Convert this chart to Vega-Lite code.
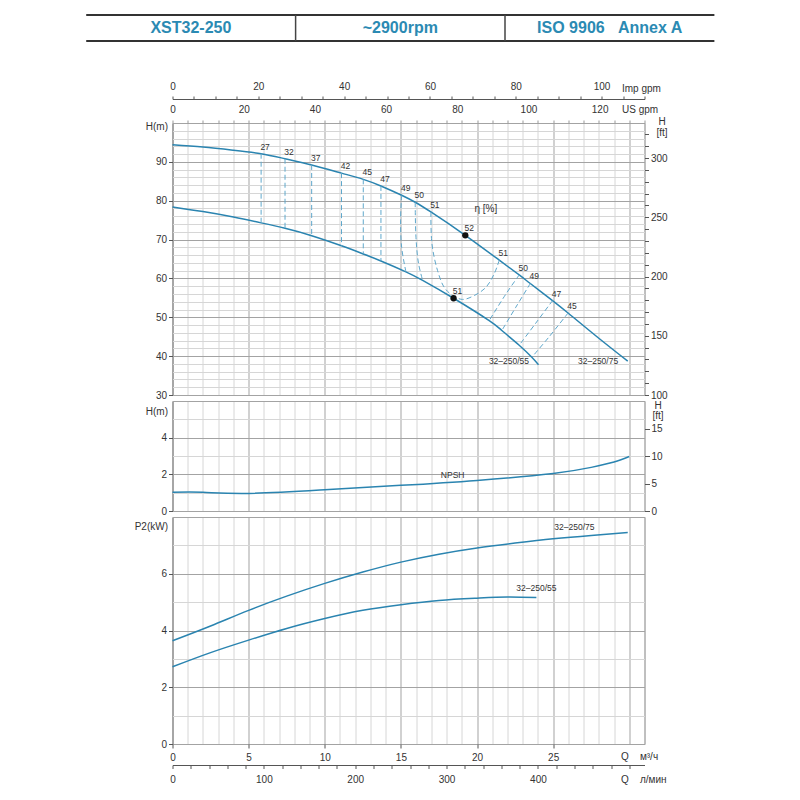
{
  "$schema": "https://vega.github.io/schema/vega-lite/v6.json",
  "background": "white",
  "padding": {"left": 84.5, "top": 14, "right": 5, "bottom": 5},
  "config": {
    "font": "Liberation Sans",
    "view": {"stroke": "#555", "strokeWidth": 1},
    "axis": {
      "labelFont": "Liberation Sans", "labelFontSize": 10, "labelColor": "#333",
      "titleFont": "Liberation Sans", "titleFontSize": 10, "titleFontWeight": "normal", "titleColor": "#333",
      "tickColor": "#555", "domainColor": "#555", "gridColor": "#d6d6d6",
      "labelFlush": false, "labelOverlap": false
    },
    "text": {"font": "Liberation Sans"}
  },
  "datasets": {
    "hdr": [
      {"t": "XST32-250", "x": 0.5, "y": 0.5},
      {"t": "~2900rpm", "x": 1.5, "y": 0.5},
      {"t": "ISO 9906\u00a0\u00a0\u00a0Annex A", "x": 2.5, "y": 0.5}
    ],
    "hdrH": [{"x": 0, "x2": 3, "y": 0}, {"x": 0, "x2": 3, "y": 1}],
    "hdrV": [{"x": 1, "y": 0, "y2": 1}, {"x": 2, "y": 0, "y2": 1}],
    "hq": [
      {"m": "75", "q": 0, "h": 94.4}, {"m": "75", "q": 2, "h": 93.8}, {"m": "75", "q": 4, "h": 93.0},
      {"m": "75", "q": 5.82, "h": 92.1}, {"m": "75", "q": 7.39, "h": 90.8}, {"m": "75", "q": 9.14, "h": 89.2},
      {"m": "75", "q": 11.1, "h": 87.1}, {"m": "75", "q": 12.53, "h": 85.5}, {"m": "75", "q": 13.69, "h": 83.8},
      {"m": "75", "q": 15.05, "h": 81.4}, {"m": "75", "q": 15.94, "h": 79.6}, {"m": "75", "q": 16.97, "h": 77.1},
      {"m": "75", "q": 19.23, "h": 71.1}, {"m": "75", "q": 21.46, "h": 64.7}, {"m": "75", "q": 22.77, "h": 60.9},
      {"m": "75", "q": 23.5, "h": 58.7}, {"m": "75", "q": 24.96, "h": 54.3}, {"m": "75", "q": 25.98, "h": 51.1},
      {"m": "75", "q": 28, "h": 44.6}, {"m": "75", "q": 29.9, "h": 38.7},
      {"m": "55", "q": 0, "h": 78.4}, {"m": "55", "q": 2, "h": 77.2}, {"m": "55", "q": 4, "h": 75.8},
      {"m": "55", "q": 5.82, "h": 74.3}, {"m": "55", "q": 7.39, "h": 72.9}, {"m": "55", "q": 9.14, "h": 71.0},
      {"m": "55", "q": 11.1, "h": 68.4}, {"m": "55", "q": 12.53, "h": 66.3}, {"m": "55", "q": 13.69, "h": 64.5},
      {"m": "55", "q": 15.33, "h": 61.7}, {"m": "55", "q": 16.43, "h": 59.5}, {"m": "55", "q": 18.46, "h": 54.9},
      {"m": "55", "q": 20.8, "h": 49.15}, {"m": "55", "q": 21.63, "h": 46.6}, {"m": "55", "q": 22.77, "h": 42.8},
      {"m": "55", "q": 23.6, "h": 39.7}, {"m": "55", "q": 24.04, "h": 37.8}
    ],
    "eta": [
      {"e": "27", "i": 0, "q": 5.82, "h": 92.1}, {"e": "27", "i": 1, "q": 5.82, "h": 74.3},
      {"e": "32", "i": 0, "q": 7.39, "h": 90.8}, {"e": "32", "i": 1, "q": 7.39, "h": 72.9},
      {"e": "37", "i": 0, "q": 9.14, "h": 89.2}, {"e": "37", "i": 1, "q": 9.14, "h": 71.0},
      {"e": "42", "i": 0, "q": 11.1, "h": 87.1}, {"e": "42", "i": 1, "q": 11.1, "h": 68.4},
      {"e": "45a", "i": 0, "q": 12.53, "h": 85.5}, {"e": "45a", "i": 1, "q": 12.53, "h": 66.3},
      {"e": "47a", "i": 0, "q": 13.69, "h": 83.8}, {"e": "47a", "i": 1, "q": 13.69, "h": 64.5},
      {"e": "49a", "i": 0, "q": 15.05, "h": 81.4}, {"e": "49a", "i": 1, "q": 14.98, "h": 75.0},
      {"e": "49a", "i": 2, "q": 15.05, "h": 68.0}, {"e": "49a", "i": 3, "q": 15.33, "h": 61.7},
      {"e": "50a", "i": 0, "q": 15.94, "h": 79.6}, {"e": "50a", "i": 1, "q": 15.99, "h": 70.6},
      {"e": "50a", "i": 2, "q": 16.16, "h": 63.8}, {"e": "50a", "i": 3, "q": 16.43, "h": 59.5},
      {"e": "51", "i": 0, "q": 16.97, "h": 77.1}, {"e": "51", "i": 1, "q": 17.04, "h": 68.9},
      {"e": "51", "i": 2, "q": 17.41, "h": 62.0}, {"e": "51", "i": 3, "q": 17.85, "h": 57.7},
      {"e": "51", "i": 4, "q": 18.4, "h": 55.6}, {"e": "51", "i": 5, "q": 19.05, "h": 54.6},
      {"e": "51", "i": 6, "q": 19.82, "h": 55.6}, {"e": "51", "i": 7, "q": 20.58, "h": 57.7},
      {"e": "51", "i": 8, "q": 21.13, "h": 61.2}, {"e": "51", "i": 9, "q": 21.46, "h": 64.7},
      {"e": "50b", "i": 0, "q": 22.77, "h": 60.9}, {"e": "50b", "i": 1, "q": 21.9, "h": 56.0}, {"e": "50b", "i": 2, "q": 20.8, "h": 49.15},
      {"e": "49b", "i": 0, "q": 23.5, "h": 58.7}, {"e": "49b", "i": 1, "q": 22.55, "h": 52.6}, {"e": "49b", "i": 2, "q": 21.63, "h": 46.6},
      {"e": "47b", "i": 0, "q": 24.96, "h": 54.3}, {"e": "47b", "i": 1, "q": 23.86, "h": 48.5}, {"e": "47b", "i": 2, "q": 22.77, "h": 42.8},
      {"e": "45b", "i": 0, "q": 25.98, "h": 51.1}, {"e": "45b", "i": 1, "q": 24.74, "h": 45.0}, {"e": "45b", "i": 2, "q": 23.6, "h": 39.7}
    ],
    "etaLab": [
      {"t": "27", "q": 5.82, "h": 92.1}, {"t": "32", "q": 7.39, "h": 90.8}, {"t": "37", "q": 9.14, "h": 89.2},
      {"t": "42", "q": 11.1, "h": 87.1}, {"t": "45", "q": 12.53, "h": 85.5}, {"t": "47", "q": 13.69, "h": 83.8},
      {"t": "49", "q": 15.05, "h": 81.4}, {"t": "50", "q": 15.94, "h": 79.6}, {"t": "51", "q": 16.97, "h": 77.1},
      {"t": "52", "q": 19.23, "h": 71.1}, {"t": "51", "q": 21.46, "h": 64.7}, {"t": "50", "q": 22.77, "h": 60.9},
      {"t": "49", "q": 23.5, "h": 58.7}, {"t": "47", "q": 24.96, "h": 54.3}, {"t": "45", "q": 25.98, "h": 51.1},
      {"t": "51", "q": 18.46, "h": 54.9}
    ],
    "bep": [{"q": 19.23, "h": 71.1}, {"q": 18.46, "h": 54.9}],
    "etaTitle": [{"t": "η [%]", "q": 20.58, "h": 77.8}],
    "hnote": [{"t": "32–250/55", "q": 22.1, "h": 38.8}, {"t": "32–250/75", "q": 27.95, "h": 38.7}],
    "npsh": [
      {"q": 0, "h": 1.02}, {"q": 2, "h": 1.02}, {"q": 5, "h": 0.96}, {"q": 10, "h": 1.16}, {"q": 15, "h": 1.40},
      {"q": 20, "h": 1.67}, {"q": 25, "h": 2.05}, {"q": 27.5, "h": 2.38}, {"q": 29, "h": 2.67}, {"q": 30, "h": 2.97}
    ],
    "npshNote": [{"t": "NPSH", "q": 18.4, "h": 1.95}],
    "p2": [
      {"m": "75", "q": 0, "p": 3.64}, {"m": "75", "q": 2.5, "p": 4.16}, {"m": "75", "q": 5, "p": 4.71},
      {"m": "75", "q": 7.5, "p": 5.21}, {"m": "75", "q": 10, "p": 5.66}, {"m": "75", "q": 12.5, "p": 6.06},
      {"m": "75", "q": 15, "p": 6.41}, {"m": "75", "q": 17.5, "p": 6.69}, {"m": "75", "q": 20, "p": 6.91},
      {"m": "75", "q": 22.5, "p": 7.08}, {"m": "75", "q": 25, "p": 7.23}, {"m": "75", "q": 27.5, "p": 7.35},
      {"m": "75", "q": 29.9, "p": 7.45},
      {"m": "55", "q": 0, "p": 2.72}, {"m": "55", "q": 2.5, "p": 3.22}, {"m": "55", "q": 5, "p": 3.66},
      {"m": "55", "q": 7.5, "p": 4.07}, {"m": "55", "q": 10, "p": 4.42}, {"m": "55", "q": 12.5, "p": 4.71},
      {"m": "55", "q": 15, "p": 4.91}, {"m": "55", "q": 17.5, "p": 5.06}, {"m": "55", "q": 20, "p": 5.14},
      {"m": "55", "q": 22, "p": 5.18}, {"m": "55", "q": 23.9, "p": 5.16}
    ],
    "p2Note": [{"t": "32–250/75", "q": 26.4, "p": 7.63}, {"t": "32–250/55", "q": 23.9, "p": 5.5}],
    "usAx": [{"us": 0, "h": 30}],
    "impAx": [{"imp": 0, "h": 30}],
    "ftAx": [{"ft": 100, "q": 0}],
    "ft2Ax": [{"ft": 0, "q": 0}],
    "lpmAx": [{"lpm": 0, "p": 0}]
  },
  "spacing": 6,
  "bounds": "flush",
  "vconcat": [
    {
      "width": 472,
      "height": 102,
      "view": {"stroke": null},
      "layer": [
        {
          "data": {"name": "hdrH"},
          "mark": {"type": "rule", "color": "#333", "strokeWidth": 2},
          "encoding": {
            "x": {"field": "x", "type": "quantitative", "scale": {"domain": [0.4121, 2.6662], "nice": false, "zero": false}, "axis": null},
            "x2": {"field": "x2"},
            "y": {"field": "y", "type": "quantitative", "scale": {"domain": [-2.923, 1], "nice": false, "zero": false}, "axis": null}
          }
        },
        {
          "data": {"name": "hdrV"},
          "mark": {"type": "rule", "color": "#444", "strokeWidth": 1.5},
          "encoding": {
            "x": {"field": "x", "type": "quantitative", "scale": {"domain": [0.4121, 2.6662], "nice": false, "zero": false}, "axis": null},
            "y": {"field": "y", "type": "quantitative", "scale": {"domain": [-2.923, 1], "nice": false, "zero": false}, "axis": null},
            "y2": {"field": "y2"}
          }
        },
        {
          "data": {"name": "hdr"},
          "mark": {"type": "text", "fontSize": 16, "fontWeight": "bold", "color": "#2b8ab3", "baseline": "middle"},
          "encoding": {
            "x": {"field": "x", "type": "quantitative", "scale": {"domain": [0.4121, 2.6662], "nice": false, "zero": false}, "axis": null},
            "y": {"field": "y", "type": "quantitative", "scale": {"domain": [-2.923, 1], "nice": false, "zero": false}, "axis": null},
            "text": {"field": "t"}
          }
        }
      ]
    },
    {
      "width": 472,
      "height": 272,
      "layer": [
        {
          "data": {"name": "hq"},
          "mark": {"type": "line", "color": "#2a84b0", "strokeWidth": 1.5, "interpolate": "natural"},
          "encoding": {
            "x": {
              "field": "q", "type": "quantitative",
              "scale": {"domain": [0, 31], "nice": false, "zero": false},
              "axis": {
                "orient": "top", "title": null, "labels": false, "domain": false,
                "values": [0,1,2,3,4,5,6,7,8,9,10,11,12,13,14,15,16,17,18,19,20,21,22,23,24,25,26,27,28,29,30,31],
                "tickSize": 3, "tickColor": "#999", "grid": true,
                "gridColor": {"condition": {"test": "datum.value % 5 === 0", "value": "#a3a3a3"}, "value": "#d6d6d6"}
              }
            },
            "y": {
              "field": "h", "type": "quantitative",
              "scale": {"domain": [30, 100], "nice": false, "zero": false},
              "axis": {
                "orient": "left",
                "values": [30,32,34,36,38,40,42,44,46,48,50,52,54,56,58,60,62,64,66,68,70,72,74,76,78,80,82,84,86,88,90,92,94,96,98,100],
                "labelExpr": "datum.value % 10 === 0 && datum.value < 100 ? datum.label : ''",
                "tickSize": 4, "labelPadding": 2, "domain": false,
                "tickOpacity": {"condition": {"test": "datum.value % 10 === 0 && datum.value < 100", "value": 1}, "value": 0},
                "grid": true,
                "gridColor": {"condition": {"test": "datum.value % 10 === 0", "value": "#a3a3a3"}, "value": "#d6d6d6"},
                "title": "H(m)", "titleAngle": 0, "titleAlign": "right", "titleBaseline": "middle", "titleX": -5, "titleY": 3
              }
            },
            "detail": {"field": "m"}
          }
        },
        {
          "data": {"name": "eta"},
          "mark": {"type": "line", "color": "#5fa8cc", "strokeWidth": 1, "strokeDash": [5, 3], "interpolate": "catmull-rom"},
          "encoding": {
            "x": {"field": "q", "type": "quantitative", "scale": {"domain": [0, 31], "nice": false, "zero": false}, "axis": null},
            "y": {"field": "h", "type": "quantitative", "scale": {"domain": [30, 100], "nice": false, "zero": false}, "axis": null},
            "detail": {"field": "e"},
            "order": {"field": "i", "type": "quantitative"}
          }
        },
        {
          "data": {"name": "bep"},
          "mark": {"type": "circle", "color": "#111", "size": 40, "opacity": 1},
          "encoding": {
            "x": {"field": "q", "type": "quantitative", "scale": {"domain": [0, 31], "nice": false, "zero": false}, "axis": null},
            "y": {"field": "h", "type": "quantitative", "scale": {"domain": [30, 100], "nice": false, "zero": false}, "axis": null}
          }
        },
        {
          "data": {"name": "etaLab"},
          "mark": {"type": "text", "fontSize": 8.5, "color": "#333", "dx": 4, "dy": -7},
          "encoding": {
            "x": {"field": "q", "type": "quantitative", "scale": {"domain": [0, 31], "nice": false, "zero": false}, "axis": null},
            "y": {"field": "h", "type": "quantitative", "scale": {"domain": [30, 100], "nice": false, "zero": false}, "axis": null},
            "text": {"field": "t"}
          }
        },
        {
          "data": {"name": "etaTitle"},
          "mark": {"type": "text", "fontSize": 10, "color": "#333"},
          "encoding": {
            "x": {"field": "q", "type": "quantitative", "scale": {"domain": [0, 31], "nice": false, "zero": false}, "axis": null},
            "y": {"field": "h", "type": "quantitative", "scale": {"domain": [30, 100], "nice": false, "zero": false}, "axis": null},
            "text": {"field": "t"}
          }
        },
        {
          "data": {"name": "hnote"},
          "mark": {"type": "text", "fontSize": 8.5, "color": "#333"},
          "encoding": {
            "x": {"field": "q", "type": "quantitative", "scale": {"domain": [0, 31], "nice": false, "zero": false}, "axis": null},
            "y": {"field": "h", "type": "quantitative", "scale": {"domain": [30, 100], "nice": false, "zero": false}, "axis": null},
            "text": {"field": "t"}
          }
        },
        {
          "data": {"name": "usAx"},
          "mark": {"type": "point", "opacity": 0},
          "encoding": {
            "x": {
              "field": "us", "type": "quantitative",
              "scale": {"domain": [0, 132.6], "nice": false, "zero": false},
              "axis": {
                "orient": "top", "values": [0, 20, 40, 60, 80, 100, 120], "ticks": false, "domain": false, "grid": false,
                "labelPadding": 8.5,
                "title": "US gpm", "titleX": 449, "titleY": -13.5, "titleAlign": "left", "titleBaseline": "middle", "titleAngle": 0
              }
            },
            "y": {"field": "h", "type": "quantitative", "scale": {"domain": [30, 100], "nice": false, "zero": false}, "axis": null}
          }
        },
        {
          "data": {"name": "impAx"},
          "mark": {"type": "point", "opacity": 0},
          "encoding": {
            "x": {
              "field": "imp", "type": "quantitative",
              "scale": {"domain": [0, 110], "nice": false, "zero": false},
              "axis": {
                "orient": "top", "offset": 24,
                "values": [0,5,10,15,20,25,30,35,40,45,50,55,60,65,70,75,80,85,90,95,100,105,110],
                "labelExpr": "datum.value % 20 === 0 ? datum.label : ''",
                "tickSize": 3, "labelPadding": 4.5, "domain": true, "grid": false,
                "title": "Imp gpm", "titleX": 449, "titleY": -10.5, "titleAlign": "left", "titleBaseline": "middle", "titleAngle": 0
              }
            },
            "y": {"field": "h", "type": "quantitative", "scale": {"domain": [30, 100], "nice": false, "zero": false}, "axis": null}
          }
        },
        {
          "data": {"name": "ftAx"},
          "mark": {"type": "point", "opacity": 0},
          "encoding": {
            "x": {"field": "q", "type": "quantitative", "scale": {"domain": [0, 31], "nice": false, "zero": false}, "axis": null},
            "y": {
              "field": "ft", "type": "quantitative",
              "scale": {"domain": [100, 329.6], "nice": false, "zero": false},
              "axis": {
                "orient": "right",
                "values": [100,110,120,130,140,150,160,170,180,190,200,210,220,230,240,250,260,270,280,290,300,310,320],
                "labelExpr": "datum.value % 50 === 0 ? datum.label : ''",
                "tickSize": 4, "labelPadding": 2, "domain": false, "grid": false,
                "title": ["H", "[ft]"], "titleAngle": 0, "titleAlign": "center", "titleBaseline": "middle",
                "titleX": 17, "titleY": -1.5, "titleLineHeight": 10.5
              }
            }
          }
        }
      ],
      "resolve": {"scale": {"x": "independent", "y": "independent"}}
    },
    {
      "width": 472,
      "height": 110,
      "layer": [
        {
          "data": {"name": "npsh"},
          "mark": {"type": "line", "color": "#2a84b0", "strokeWidth": 1.5, "interpolate": "natural"},
          "encoding": {
            "x": {
              "field": "q", "type": "quantitative",
              "scale": {"domain": [0, 31], "nice": false, "zero": false},
              "axis": {
                "orient": "bottom", "title": null, "labels": false, "ticks": false, "domain": false,
                "values": [0,1,2,3,4,5,6,7,8,9,10,11,12,13,14,15,16,17,18,19,20,21,22,23,24,25,26,27,28,29,30,31],
                "grid": true,
                "gridColor": {"condition": {"test": "datum.value % 5 === 0", "value": "#a3a3a3"}, "value": "#d6d6d6"}
              }
            },
            "y": {
              "field": "h", "type": "quantitative",
              "scale": {"domain": [0, 6], "nice": false, "zero": false},
              "axis": {
                "orient": "left", "format": "d",
                "values": [0,0.5,1,1.5,2,2.5,3,3.5,4,4.5,5,5.5,6],
                "labelExpr": "datum.value % 2 === 0 && datum.value < 6 ? datum.label : ''",
                "tickSize": 4, "labelPadding": 2, "domain": false,
                "tickOpacity": {"condition": {"test": "datum.value % 2 === 0 && datum.value < 6", "value": 1}, "value": 0},
                "grid": true,
                "gridColor": {"condition": {"test": "datum.value % 2 === 0", "value": "#a3a3a3"}, "value": "#d6d6d6"},
                "title": "H(m)", "titleAngle": 0, "titleAlign": "right", "titleBaseline": "middle", "titleX": -5, "titleY": 10
              }
            }
          }
        },
        {
          "data": {"name": "npshNote"},
          "mark": {"type": "text", "fontSize": 8.5, "color": "#333"},
          "encoding": {
            "x": {"field": "q", "type": "quantitative", "scale": {"domain": [0, 31], "nice": false, "zero": false}, "axis": null},
            "y": {"field": "h", "type": "quantitative", "scale": {"domain": [0, 6], "nice": false, "zero": false}, "axis": null},
            "text": {"field": "t"}
          }
        },
        {
          "data": {"name": "ft2Ax"},
          "mark": {"type": "point", "opacity": 0},
          "encoding": {
            "x": {"field": "q", "type": "quantitative", "scale": {"domain": [0, 31], "nice": false, "zero": false}, "axis": null},
            "y": {
              "field": "ft", "type": "quantitative",
              "scale": {"domain": [0, 20], "nice": false, "zero": false},
              "axis": {
                "orient": "right", "values": [0, 5, 10, 15],
                "tickSize": 5, "labelPadding": 1.5, "domain": false, "grid": false,
                "title": ["H", "[ft]"], "titleAngle": 0, "titleAlign": "center", "titleBaseline": "middle",
                "titleX": 13, "titleY": 4.5, "titleLineHeight": 9.5
              }
            }
          }
        }
      ],
      "resolve": {"scale": {"x": "independent", "y": "independent"}}
    },
    {
      "width": 472,
      "height": 227,
      "layer": [
        {
          "data": {"name": "p2"},
          "mark": {"type": "line", "color": "#2a84b0", "strokeWidth": 1.5, "interpolate": "natural"},
          "encoding": {
            "x": {
              "field": "q", "type": "quantitative",
              "scale": {"domain": [0, 31], "nice": false, "zero": false},
              "axis": {
                "orient": "bottom", "domain": false,
                "values": [0,1,2,3,4,5,6,7,8,9,10,11,12,13,14,15,16,17,18,19,20,21,22,23,24,25,26,27,28,29,30,31],
                "labelExpr": "datum.value % 5 === 0 && datum.value < 30 ? datum.label : ''",
                "tickSize": 4, "labelPadding": 4,
                "tickOpacity": {"condition": {"test": "datum.value % 5 === 0 && datum.value < 30", "value": 1}, "value": 0},
                "grid": true,
                "gridColor": {"condition": {"test": "datum.value % 5 === 0", "value": "#a3a3a3"}, "value": "#d6d6d6"},
                "title": "Q\u00a0\u00a0\u00a0\u00a0м³/ч", "titleX": 448, "titleY": 12.5, "titleAlign": "left", "titleBaseline": "middle"
              }
            },
            "y": {
              "field": "p", "type": "quantitative",
              "scale": {"domain": [0, 8], "nice": false, "zero": false},
              "axis": {
                "orient": "left", "format": "d",
                "values": [0,0.5,1,1.5,2,2.5,3,3.5,4,4.5,5,5.5,6,6.5,7,7.5,8],
                "labelExpr": "datum.value % 2 === 0 && datum.value < 8 ? datum.label : ''",
                "tickSize": 4, "labelPadding": 2, "domain": false,
                "tickOpacity": {"condition": {"test": "datum.value % 2 === 0 && datum.value < 8", "value": 1}, "value": 0},
                "grid": true,
                "gridColor": {"condition": {"test": "datum.value % 2 === 0", "value": "#a3a3a3"}, "value": "#d6d6d6"},
                "title": "P2(kW)", "titleAngle": 0, "titleAlign": "right", "titleBaseline": "middle", "titleX": -5, "titleY": 9
              }
            },
            "detail": {"field": "m"}
          }
        },
        {
          "data": {"name": "p2Note"},
          "mark": {"type": "text", "fontSize": 8.5, "color": "#333"},
          "encoding": {
            "x": {"field": "q", "type": "quantitative", "scale": {"domain": [0, 31], "nice": false, "zero": false}, "axis": null},
            "y": {"field": "p", "type": "quantitative", "scale": {"domain": [0, 8], "nice": false, "zero": false}, "axis": null},
            "text": {"field": "t"}
          }
        },
        {
          "data": {"name": "lpmAx"},
          "mark": {"type": "point", "opacity": 0},
          "encoding": {
            "x": {
              "field": "lpm", "type": "quantitative",
              "scale": {"domain": [0, 516.67], "nice": false, "zero": false},
              "axis": {
                "orient": "bottom", "offset": 21,
                "values": [0,20,40,60,80,100,120,140,160,180,200,220,240,260,280,300,320,340,360,380,400,420,440,460,480,500],
                "labelExpr": "datum.value % 100 === 0 && datum.value < 500 ? datum.label : ''",
                "tickSize": 3.5, "labelPadding": 5.5, "domain": true, "grid": false,
                "title": "Q\u00a0\u00a0\u00a0\u00a0л/мин", "titleX": 448, "titleY": 14, "titleAlign": "left", "titleBaseline": "middle"
              }
            },
            "y": {"field": "p", "type": "quantitative", "scale": {"domain": [0, 8], "nice": false, "zero": false}, "axis": null}
          }
        }
      ],
      "resolve": {"scale": {"x": "independent", "y": "independent"}}
    }
  ]
}
